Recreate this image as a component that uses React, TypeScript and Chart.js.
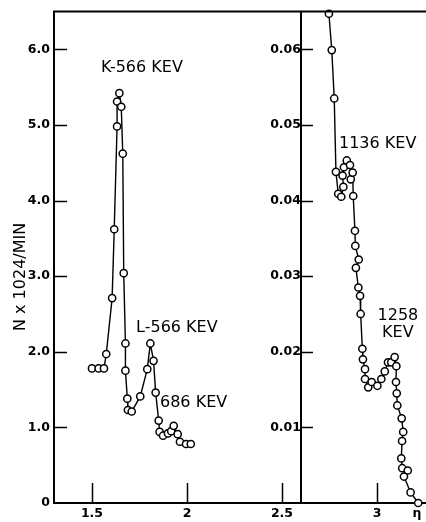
import React, { useEffect, useRef } from 'react';
import { Chart, registerables } from 'chart.js';

Chart.register(...registerables);

// Left panel: N x 1024/min (left axis)
const leftX = [1.5, 1.535, 1.563, 1.575, 1.606, 1.617, 1.632, 1.632, 1.644, 1.654, 1.662, 1.667, 1.676, 1.676, 1.686, 1.689, 1.709, 1.754, 1.791, 1.807, 1.824, 1.835, 1.851, 1.856, 1.874, 1.9, 1.917, 1.93, 1.951, 1.963, 1.995, 2.02];
const leftY = [1.78, 1.78, 1.78, 1.97, 2.71, 3.62, 4.98, 5.31, 5.42, 5.24, 4.62, 3.04, 2.11, 1.75, 1.38, 1.23, 1.21, 1.41, 1.77, 2.11, 1.88, 1.46, 1.09, 0.94, 0.89, 0.92, 0.95, 1.02, 0.91, 0.81, 0.78, 0.78];

// Right panel (right-hand axis scale)
const rightX = [2.747, 2.762, 2.775, 2.784, 2.796, 2.812, 2.823, 2.819, 2.826, 2.841, 2.858, 2.862, 2.872, 2.875, 2.884, 2.886, 2.904, 2.889, 2.902, 2.911, 2.914, 2.923, 2.926, 2.937, 2.937, 2.954, 2.972, 3.002, 3.023, 3.041, 3.058, 3.075, 3.093, 3.102, 3.1, 3.104, 3.107, 3.13, 3.138, 3.132, 3.128, 3.133, 3.162, 3.142, 3.177, 3.217];
const rightY = [0.0647, 0.0599, 0.0535, 0.0438, 0.0409, 0.0405, 0.0418, 0.0433, 0.0444, 0.0453, 0.0447, 0.0428, 0.0437, 0.0406, 0.036, 0.034, 0.0322, 0.0311, 0.0285, 0.0274, 0.025, 0.0204, 0.019, 0.0177, 0.0164, 0.0153, 0.016, 0.0155, 0.0164, 0.0174, 0.0186, 0.0186, 0.0193, 0.0181, 0.016, 0.0145, 0.0129, 0.0112, 0.0094, 0.0082, 0.0059, 0.0046, 0.0043, 0.0035, 0.0014, 0];

const leftTicks = [0, 1, 2, 3, 4, 5, 6];
const rightTicks = [0.01, 0.02, 0.03, 0.04, 0.05, 0.06];
const xTicks = [1.5, 2, 2.5, 3];
const etaTick = 3.21;
const etaLabel = 'η';
const dividerX = 2.6;
const yTitle = 'N x 1024/MIN';

// Peak labels: text, x, y, which axis, alignment
const peakText = ['K-566 KEV', 'L-566 KEV', '686 KEV', '1136 KEV', '1258', 'KEV'];
const peakX = [1.763, 1.732, 1.858, 2.8, 3.11, 3.11];
const peakY = [5.75, 2.32, 1.33, 0.0475, 0.0248, 0.0225];
const peakAxis = ['y', 'y', 'y', 'y2', 'y2', 'y2'];
const peakAlign = ['center', 'left', 'left', 'left', 'center', 'center'];

const tickFont = { family: 'DejaVu Sans', size: 12.5, weight: 'bold' as const };

export default function App() {
  const ref = useRef<HTMLCanvasElement>(null);
  useEffect(() => {
    document.body.style.margin = '0';
    const canvas = ref.current;
    if (!canvas) return;

    const framePlugin = {
      id: 'frame',
      afterDraw(chart: any) {
        const { ctx, chartArea, scales } = chart;
        const x = scales.x, y = scales.y, y2 = scales.y2;
        ctx.save();
        ctx.strokeStyle = '#000';
        ctx.lineWidth = 2;
        ctx.beginPath();
        ctx.moveTo(chartArea.left - 1, chartArea.top);
        ctx.lineTo(chartArea.right, chartArea.top);
        ctx.stroke();
        ctx.lineWidth = 1.5;
        leftTicks.forEach((v) => {
          if (v === 0) return;
          const py = Math.round(y.getPixelForValue(v)) + 0.5;
          ctx.beginPath();
          ctx.moveTo(chartArea.left, py);
          ctx.lineTo(chartArea.left + 13, py);
          ctx.stroke();
        });
        const dx = x.getPixelForValue(dividerX);
        rightTicks.forEach((v) => {
          const py = Math.round(y2.getPixelForValue(v)) + 0.5;
          ctx.beginPath();
          ctx.moveTo(dx, py);
          ctx.lineTo(dx + 12, py);
          ctx.stroke();
        });
        xTicks.forEach((v) => {
          const px = Math.round(x.getPixelForValue(v)) + 0.5;
          ctx.beginPath();
          ctx.moveTo(px, chartArea.bottom);
          ctx.lineTo(px, chartArea.bottom - 20);
          ctx.stroke();
        });
        // y title
        ctx.fillStyle = '#000';
        ctx.font = '16px "DejaVu Sans"';
        ctx.textAlign = 'center';
        ctx.textBaseline = 'middle';
        ctx.save();
        ctx.translate(21, y.getPixelForValue(2.99));
        ctx.rotate(-Math.PI / 2);
        ctx.fillText(yTitle, 0, 0);
        ctx.restore();
        // peak labels
        ctx.font = '16px "DejaVu Sans"';
        peakText.forEach((t, i) => {
          const sc = scales[peakAxis[i]];
          ctx.textAlign = peakAlign[i] as CanvasTextAlign;
          ctx.fillText(t, x.getPixelForValue(peakX[i]), sc.getPixelForValue(peakY[i]));
        });
        ctx.restore();
      },
    };

    const pointStyle = {
      borderColor: '#000',
      backgroundColor: '#fff',
      borderWidth: 1.4,
      pointRadius: 3.6,
      pointBorderWidth: 1.5,
      pointBackgroundColor: '#fff',
      pointBorderColor: '#000',
      tension: 0,
      clip: false as const,
      showLine: true,
    };

    const noGrid = { display: false, drawTicks: false, tickLength: 0 };

    const chart = new Chart(canvas, {
      type: 'scatter',
      data: {
        datasets: [
          {
            ...pointStyle,
            data: leftX.map((v, i) => ({ x: v, y: leftY[i] })),
            yAxisID: 'y',
          },
          {
            ...pointStyle,
            data: rightX.map((v, i) => ({ x: v, y: rightY[i] })),
            yAxisID: 'y2',
          },
        ],
      },
      options: {
        responsive: false,
        animation: false,
        layout: { autoPadding: false, padding: { top: 10, right: 0, left: 0, bottom: 0 } },
        plugins: { legend: { display: false }, tooltip: { enabled: false } },
        scales: {
          x: {
            type: 'linear',
            min: 1.3,
            max: 3.258,
            afterBuildTicks: (s: any) => {
              s.ticks = [...xTicks, etaTick].map((v) => ({ value: v }));
            },
            afterFit: (s: any) => {
              s.height = 19;
            },
            ticks: {
              autoSkip: false,
              maxRotation: 0,
              padding: 3,
              color: '#000',
              font: tickFont,
              callback: (v: any) => (v === etaTick ? etaLabel : String(v)),
            },
            grid: noGrid,
            border: { display: true, color: '#000', width: 2 },
          },
          y: {
            type: 'linear',
            position: 'left',
            min: 0,
            max: 6.5,
            afterBuildTicks: (s: any) => {
              s.ticks = leftTicks.map((v) => ({ value: v }));
            },
            afterFit: (s: any) => {
              s.width = 54;
            },
            ticks: {
              padding: 4,
              color: '#000',
              font: tickFont,
              callback: (v: any) => (v === 0 ? '0' : Number(v).toFixed(1)),
            },
            grid: noGrid,
            border: { display: true, color: '#000', width: 2 },
          },
          y2: {
            type: 'linear',
            axis: 'y',
            position: { x: dividerX } as any,
            min: 0,
            max: 0.065,
            afterBuildTicks: (s: any) => {
              s.ticks = rightTicks.map((v) => ({ value: v }));
            },
            ticks: {
              padding: 2,
              color: '#000',
              font: tickFont,
              callback: (v: any) => Number(v).toFixed(2),
            },
            grid: noGrid,
            border: { display: true, color: '#000', width: 2 },
          },
        },
      },
      plugins: [framePlugin],
    } as any);
    return () => chart.destroy();
  }, []);
  return <canvas ref={ref} width={426} height={522} style={{ display: 'block' }} />;
}
